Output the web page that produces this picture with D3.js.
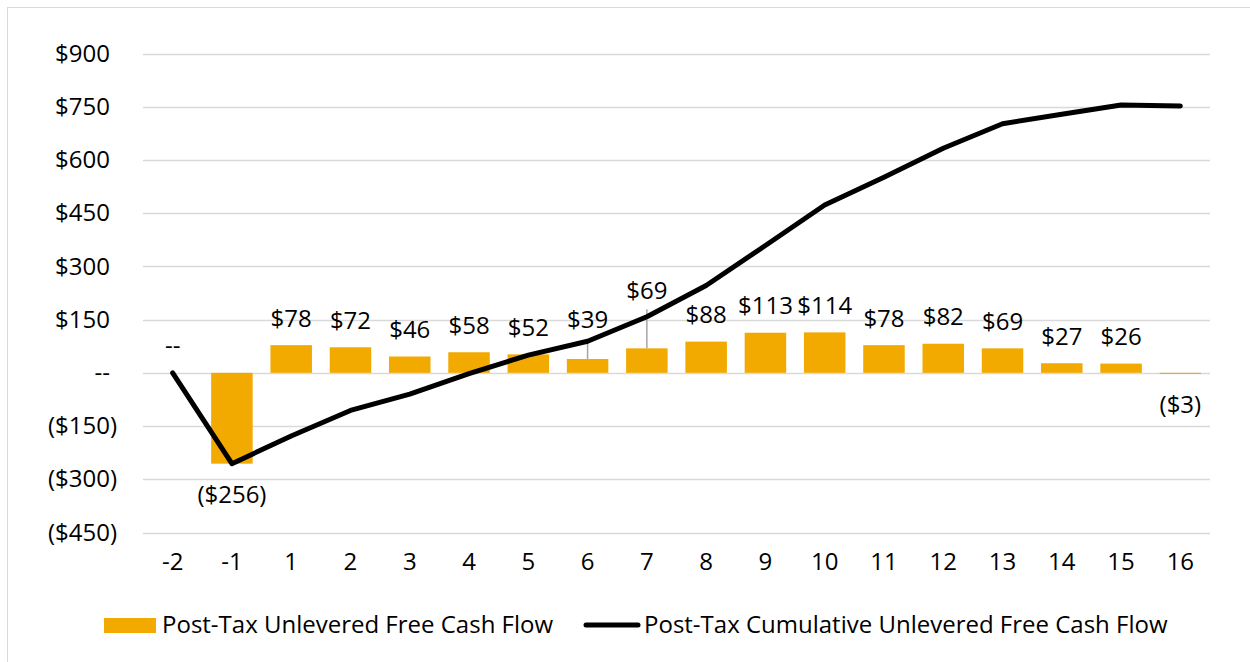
<!DOCTYPE html>
<html>
<head>
<meta charset="utf-8">
<script src="https://cdn.jsdelivr.net/npm/d3@7"></script>
<style>
  body { margin: 0; background: #fff; }
  svg text { font-family: "Open Sans", "Noto Sans", sans-serif; fill: #000; }
</style>
</head>
<body>
<div id="chart"></div>
<script>
// Data
var periods = ["-2", "-1", "1", "2", "3", "4", "5", "6", "7", "8", "9", "10", "11", "12", "13", "14", "15", "16"];
var cashFlow = [0, -256, 78, 72, 46, 58, 52, 39, 69, 88, 113, 114, 78, 82, 69, 27, 26, -3];
var cumulative = [0, -256, -178, -106, -60, -2, 50, 89, 158, 246, 359, 473, 551, 633, 702, 729, 755, 752];
var yTicks = [-450, -300, -150, 0, 150, 300, 450, 600, 750, 900];
// labels lifted above the line, with a leader line
var liftedLabels = { "6": 12, "7": 31 };

var width = 1250, height = 662;
var orange = "#F2A900";
var fontSize = "24px";

var svg = d3.select("#chart").append("svg")
  .attr("width", width)
  .attr("height", height);

// outer frame (only top and left edges fall inside the picture)
svg.append("rect")
  .attr("x", 7.5).attr("y", 7.5)
  .attr("width", 1260).attr("height", 680)
  .attr("fill", "none")
  .attr("stroke", "#d9d9d9");

var x = d3.scaleBand()
  .domain(periods)
  .range([143, 1210])
  .paddingInner(0.3)
  .paddingOuter(0.15);

var y = d3.scaleLinear()
  .domain([-450, 900])
  .range([532.5, 53.5]);

// money format: $150, ($150), --
function money(v) {
  if (v === 0) return "--";
  return v < 0 ? "($" + Math.abs(v) + ")" : "$" + v;
}

// gridlines
svg.append("g").selectAll("line")
  .data(yTicks)
  .enter().append("line")
    .attr("x1", 143).attr("x2", 1210)
    .attr("y1", function(d) { return Math.round(y(d)) + 0.5; })
    .attr("y2", function(d) { return Math.round(y(d)) + 0.5; })
    .attr("stroke", "#d9d9d9")
    .attr("stroke-width", 1.5);

// y axis labels (non-negative ones leave room for the ")" like Excel does)
var yAxis = d3.axisLeft(y).tickValues(yTicks).tickSize(0).tickPadding(0).tickFormat(money);
svg.append("g")
  .attr("transform", "translate(117,0)")
  .call(yAxis)
  .call(function(g) { g.select(".domain").remove(); })
  .selectAll("text")
    .style("font-size", fontSize)
    .attr("fill", "#000")
    .attr("x", function(d) { return d < 0 ? 0 : -7; })
    .style("font-family", "'Open Sans', 'Noto Sans', sans-serif");

// x axis labels
var xAxis = d3.axisBottom(x).tickSize(0).tickPadding(0);
svg.append("g")
  .attr("transform", "translate(0,553)")
  .call(xAxis)
  .call(function(g) { g.select(".domain").remove(); })
  .selectAll("text")
    .style("font-size", fontSize)
    .attr("fill", "#000")
    .style("font-family", "'Open Sans', 'Noto Sans', sans-serif");

// bars
svg.append("g").selectAll("rect")
  .data(periods)
  .enter().append("rect")
    .attr("x", function(d) { return x(d); })
    .attr("width", x.bandwidth())
    .attr("y", function(d, i) { return y(Math.max(0, cashFlow[i])); })
    .attr("height", function(d, i) { return Math.abs(y(cashFlow[i]) - y(0)); })
    .attr("fill", orange);

// leader lines for lifted labels
svg.append("g").selectAll("line")
  .data(periods.filter(function(p) { return liftedLabels[p]; }))
  .enter().append("line")
    .attr("x1", function(d) { return x(d) + x.bandwidth() / 2; })
    .attr("x2", function(d) { return x(d) + x.bandwidth() / 2; })
    .attr("y1", function(d) { return y(cashFlow[periods.indexOf(d)]); })
    .attr("y2", function(d) { return y(cashFlow[periods.indexOf(d)]) - liftedLabels[d] - 8; })
    .attr("stroke", "#a6a6a6")
    .attr("stroke-width", 1.5);

// bar value labels
svg.append("g").selectAll("text")
  .data(periods)
  .enter().append("text")
    .attr("x", function(d) { return x(d) + x.bandwidth() / 2; })
    .attr("y", function(d, i) {
      var v = cashFlow[i];
      if (v < 0) return y(v) + 31;
      return y(v) - 27 - (liftedLabels[d] || 0);
    })
    .attr("dy", "0.35em")
    .attr("text-anchor", "middle")
    .style("font-size", fontSize)
    .text(function(d, i) { return money(cashFlow[i]); });

// cumulative line
var line = d3.line()
  .x(function(d, i) { return x(periods[i]) + x.bandwidth() / 2; })
  .y(function(d) { return y(d); });

svg.append("path")
  .datum(cumulative)
  .attr("d", line)
  .attr("fill", "none")
  .attr("stroke", "#000")
  .attr("stroke-width", 5)
  .attr("stroke-linecap", "round")
  .attr("stroke-linejoin", "round");

// legend
var legend = svg.append("g");
legend.append("rect")
  .attr("x", 104).attr("y", 618)
  .attr("width", 52).attr("height", 15)
  .attr("fill", orange);
legend.append("text")
  .attr("x", 162).attr("y", 625)
  .attr("dy", "0.35em")
  .style("font-size", fontSize)
  .text("Post-Tax Unlevered Free Cash Flow");
legend.append("line")
  .attr("x1", 586).attr("x2", 638)
  .attr("y1", 625).attr("y2", 625)
  .attr("stroke", "#000")
  .attr("stroke-width", 5)
  .attr("stroke-linecap", "round");
legend.append("text")
  .attr("x", 644).attr("y", 625)
  .attr("dy", "0.35em")
  .style("font-size", fontSize)
  .text("Post-Tax Cumulative Unlevered Free Cash Flow");
</script>
</body>
</html>
